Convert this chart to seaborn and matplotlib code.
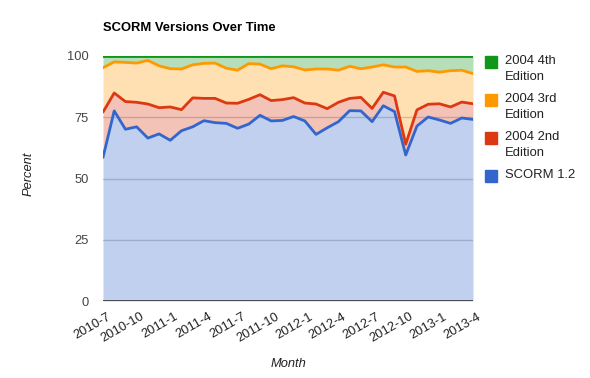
import numpy as np
import pandas as pd
import matplotlib
matplotlib.use("Agg")
import matplotlib.pyplot as plt
import matplotlib.transforms as mtransforms
import seaborn as sns
from matplotlib.patches import Rectangle

months = ["2010-7", "2010-8", "2010-9", "2010-10", "2010-11", "2010-12",
          "2011-1", "2011-2", "2011-3", "2011-4", "2011-5", "2011-6",
          "2011-7", "2011-8", "2011-9", "2011-10", "2011-11", "2011-12",
          "2012-1", "2012-2", "2012-3", "2012-4", "2012-5", "2012-6",
          "2012-7", "2012-8", "2012-9", "2012-10", "2012-11", "2012-12",
          "2013-1", "2013-2", "2013-3", "2013-4"]

scorm12 = [58.6, 77.6, 70.1, 71.1, 66.5, 68.2, 65.6, 69.5, 71.1, 73.6, 72.8, 72.5,
           70.5, 72.2, 75.8, 73.5, 73.7, 75.3, 73.5, 68.0, 70.7, 73.2, 77.7, 77.6,
           73.2, 79.7, 77.3, 59.6, 71.4, 75.1, 73.9, 72.5, 74.7, 74.1]
ed2 = [18.5, 7.3, 11.3, 10.0, 13.9, 10.7, 13.6, 8.6, 11.8, 9.1, 9.9, 8.3,
       10.2, 10.1, 8.4, 8.3, 8.5, 7.7, 7.3, 12.4, 7.8, 7.9, 5.0, 5.5,
       5.4, 5.5, 6.4, 4.4, 6.6, 5.2, 6.6, 6.7, 6.5, 6.4]
ed3 = [18.1, 12.7, 16.0, 16.0, 17.8, 17.1, 15.6, 16.6, 13.5, 14.3, 14.4, 14.2,
       13.5, 14.6, 12.5, 13.0, 13.8, 12.6, 13.5, 14.3, 16.2, 13.1, 13.1, 11.7,
       16.9, 11.2, 11.8, 31.5, 15.7, 13.7, 12.9, 14.8, 13.0, 12.3]
ed4 = [4.8, 2.4, 2.6, 2.9, 1.8, 4.0, 5.2, 5.3, 3.6, 3.0, 2.9, 5.0,
       5.8, 3.1, 3.3, 5.2, 4.0, 4.4, 5.7, 5.3, 5.3, 5.8, 4.2, 5.2,
       4.5, 3.6, 4.5, 4.5, 6.3, 6.0, 6.6, 6.0, 5.8, 7.2]

series_names = ["SCORM 1.2", "2004 2nd Edition", "2004 3rd Edition", "2004 4th Edition"]
legend_labels = ["SCORM 1.2", "2004 2nd\nEdition", "2004 3rd\nEdition", "2004 4th\nEdition"]
colors = ["#3366cc", "#dc3912", "#ff9900", "#109618"]
tick_labels = ["2010-7", "2010-10", "2011-1", "2011-4", "2011-7", "2011-10",
               "2012-1", "2012-4", "2012-7", "2012-10", "2013-1", "2013-4"]

sns.set_theme(style="white")
plt.rcParams["font.family"] = ["Liberation Sans", "DejaVu Sans"]

W, H = 590, 378
fig = plt.figure(figsize=(W / 100, H / 100), dpi=100)
ax = fig.add_axes([103 / W, 1 - 301 / H, 370 / W, 245 / H])

x = np.arange(len(months))
stack = np.cumsum(np.array([scorm12, ed2, ed3, ed4]), axis=0)

for g in [25, 50, 75]:
    ax.axhline(g, color="#cccccc", lw=1, zorder=0)

lower = np.zeros(len(x))
for i, name in enumerate(series_names):
    ax.fill_between(x, lower, stack[i], color=colors[i], alpha=0.3, lw=0, zorder=1)
    lower = stack[i]

df = pd.DataFrame({"x": np.tile(x, 4), "y": stack.ravel(),
                   "series": np.repeat(series_names, len(x))})
sns.lineplot(data=df, x="x", y="y", hue="series", palette=colors,
             hue_order=series_names, lw=2, ax=ax, legend=False, zorder=3)

ax.axhline(0, color="#333333", lw=1.2, zorder=4)
ax.set_xlim(0, len(x) - 1)
ax.set_ylim(0, 100)
for s in ax.spines.values():
    s.set_visible(False)

ax.set_yticks([0, 25, 50, 75, 100])
ax.set_yticklabels(["0", "25", "50", "75", "100"])
ax.set_xticks([months.index(t) for t in tick_labels])
ax.set_xticklabels(tick_labels, rotation=30, ha="right", rotation_mode="anchor")
ax.tick_params(axis="y", length=0, pad=10, labelsize=9.3, labelcolor="#444444")
ax.tick_params(axis="x", length=0, pad=7, labelsize=9.3, labelcolor="#222222")
offset = mtransforms.ScaledTranslation(4 / 100, 0, fig.dpi_scale_trans)
for lbl in ax.get_xticklabels():
    lbl.set_transform(lbl.get_transform() + offset)

ax.set_xlabel("Month", fontsize=9.3, style="italic", color="#222222", labelpad=9)
ax.set_ylabel("Percent", fontsize=9.3, style="italic", color="#222222")
ax.yaxis.set_label_coords(-68 / 370, 0.52)

fig.text(103 / W, 1 - 28 / H, "SCORM Versions Over Time", fontsize=9.4,
         fontweight="bold", color="#000000", va="center", ha="left")

# legend
order = [3, 2, 1, 0]
for k, i in enumerate(order):
    top = 56 + 38 * k
    fig.patches.append(Rectangle((485 / W, 1 - (top + 12) / H), 12 / W, 12 / H,
                                 transform=fig.transFigure, color=colors[i]))
    fig.text(505 / W, 1 - (top - 1) / H, legend_labels[i], fontsize=9.4,
             color="#222222", va="top", ha="left", linespacing=1.4)

fig.savefig("out.png", dpi=100)
